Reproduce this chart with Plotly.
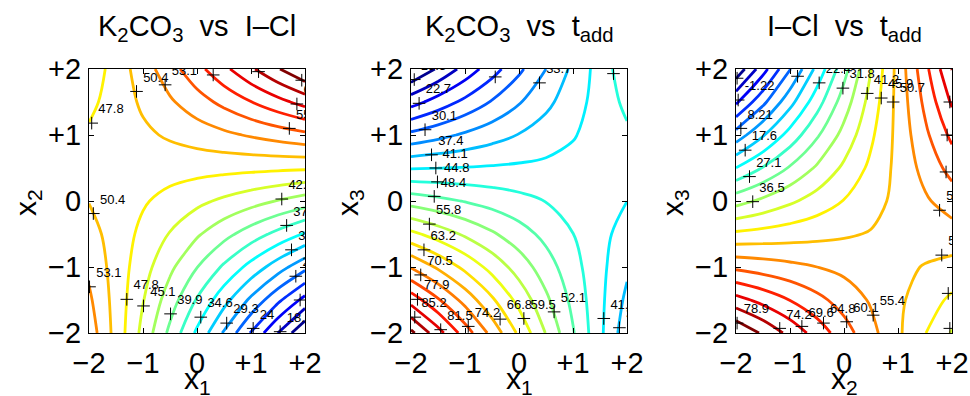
import plotly.graph_objects as go

FONT = "Liberation Sans, Arial, Helvetica, sans-serif"

# ---------------- data ----------------
grid = [-2, -1.5, -1, -0.5, 0, 0.5, 1, 1.5, 2]

# panel 1: response vs x1 (columns) and x2 (rows, bottom to top)
z_k2co3_icl = [
    [54.64, 49.50, 44.36, 39.22, 34.08, 28.94, 23.80, 18.66, 13.52],
    [53.57, 49.43, 45.29, 41.15, 37.01, 32.87, 28.73, 24.59, 20.45],
    [52.50, 49.36, 46.22, 43.08, 39.94, 36.80, 33.66, 30.52, 27.38],
    [51.43, 49.29, 47.15, 45.01, 42.87, 40.73, 38.59, 36.45, 34.31],
    [50.36, 49.22, 48.08, 46.94, 45.80, 44.66, 43.52, 42.38, 41.24],
    [49.29, 49.15, 49.01, 48.87, 48.73, 48.59, 48.45, 48.31, 48.17],
    [48.22, 49.08, 49.94, 50.80, 51.66, 52.52, 53.38, 54.24, 55.10],
    [47.15, 49.01, 50.87, 52.73, 54.59, 56.45, 58.31, 60.17, 62.03],
    [46.08, 48.94, 51.80, 54.66, 57.52, 60.38, 63.24, 66.10, 68.96],
]
# panel 2: response vs x1 (columns) and x3 (rows)
z_k2co3_tadd = [
    [89.83, 82.98, 76.13, 69.28, 62.43, 55.58, 48.73, 41.88, 35.03],
    [80.02, 74.59, 69.15, 63.72, 58.28, 52.85, 47.41, 41.97, 36.54],
    [70.21, 66.19, 62.17, 58.15, 54.13, 50.11, 46.09, 42.07, 38.05],
    [60.40, 57.80, 55.19, 52.59, 49.98, 47.38, 44.77, 42.17, 39.56],
    [50.59, 49.40, 48.21, 47.02, 45.83, 44.64, 43.45, 42.26, 41.07],
    [40.78, 41.01, 41.23, 41.46, 41.68, 41.91, 42.13, 42.36, 42.58],
    [30.97, 32.61, 34.25, 35.89, 37.53, 39.17, 40.81, 42.45, 44.09],
    [21.16, 24.22, 27.27, 30.33, 33.38, 36.44, 39.49, 42.55, 45.60],
    [11.35, 15.82, 20.29, 24.76, 29.23, 33.70, 38.17, 42.64, 47.11],
]
# panel 3: response vs x2 (columns) and x3 (rows)
z_icl_tadd = [
    [83.44, 78.11, 72.77, 67.44, 62.10, 56.77, 51.43, 46.10, 40.76],
    [71.24, 67.95, 64.67, 61.38, 58.10, 54.81, 51.53, 48.24, 44.96],
    [59.03, 57.80, 56.56, 55.33, 54.09, 52.86, 51.62, 50.39, 49.15],
    [46.83, 47.64, 48.46, 49.27, 50.09, 50.90, 51.72, 52.53, 53.35],
    [34.62, 37.49, 40.35, 43.22, 46.08, 48.95, 51.81, 54.68, 57.54],
    [22.42, 27.33, 32.25, 37.16, 42.08, 46.99, 51.91, 56.82, 61.74],
    [10.21, 17.18, 24.14, 31.11, 38.07, 45.04, 52.00, 58.97, 65.93],
    [-2.00, 7.02, 16.04, 25.05, 34.07, 43.08, 52.10, 61.11, 70.13],
    [-14.20, -3.14, 7.93, 19.00, 30.06, 41.13, 52.19, 63.26, 74.32],
]

# contour levels: first level, last level, step
levels_1 = [16.06, 66.32, 2.645]
levels_2 = [15.30, 88.88, 3.679]
levels_3 = [-10.65, 78.90, 4.713]

# contour-label anchors (clabel "+" marks) and their texts
lab1_x = [-0.59, -1.12, -1.95, -1.92, -1.99, -1.30, -0.99, -0.49, 0.07, 0.55, 1.04, 1.54,
          1.57, 1.66, 1.75, 1.83, 1.91, 1.71, 1.85, 1.94, 0.30, 1.14]
lab1_y = [1.76, 1.66, 1.18, -0.19, -1.30, -1.49, -1.59, -1.71, -1.76, -1.85, -1.93, -1.98,
          0.03, -0.37, -0.74, -1.14, -1.50, 1.10, 1.47, 1.83, 1.91, 1.96]
lab1_t = ["53.1", "50.4", "47.8", "50.4", "53.1", "47.8", "45.1", "39.9", "34.6", "29.3", "24", "18.7",
          "42.5", "37.2", "31.9", "26.6", "21.4", "55.7", "61", "66.3", "58.4", "63.7"]

lab2_x = [-1.94, -0.44, 0.38, 1.75, -1.85, -1.74, -1.62, -1.54, -1.51, -1.57, -1.66, -1.76,
          -1.82, -1.88, -1.93, -1.45, -0.94, -0.35, 0.09, 0.65, 1.57, 1.86]
lab2_y = [1.84, 1.88, 1.79, 1.93, 1.48, 1.08, 0.70, 0.50, 0.29, 0.07, -0.35, -0.74,
          -1.12, -1.49, -1.76, -1.95, -1.90, -1.79, -1.78, -1.68, -1.78, -1.92]
lab2_t = ["15.3", "26.3", "33.7", "44.7", "22.7", "30.1", "37.4", "41.1", "44.8", "48.4", "55.8", "63.2",
          "70.5", "77.9", "85.2", "81.5", "74.2", "66.8", "59.5", "52.1", "41.1", "37.4"]

lab3_x = [-1.98, -0.86, -0.46, -0.02, 0.43, 0.69, 0.91, -1.96, -1.91, -1.83, -1.75, -1.69,
          1.96, 1.91, 1.89, 1.77, 1.81, 1.93, 1.96, 0.54, 0.05, -0.38, -0.78, -1.19, -1.98]
lab3_y = [1.86, 1.89, 1.79, 1.71, 1.63, 1.56, 1.50, 1.53, 1.10, 0.77, 0.37, -0.01,
          1.50, 1.00, 0.44, -0.14, -0.82, -1.40, -1.93, -1.73, -1.83, -1.85, -1.90, -1.93, -1.85]
lab3_t = ["-10.7", "12.9", "22.4", "31.8", "41.2", "45.9", "50.7", "-1.22", "8.21", "17.6", "27.1", "36.5",
          "69.6", "64.8", "60.1", "55.4", "50.7", "45.9", "41.2", "55.4", "60.1", "64.8", "69.6", "74.2", "78.9"]

tick_vals = [-2, -1, 0, 1, 2]
tick_text = ["\u22122", "\u22121", "0", "+1", "+2"]

titles = ["K<sub>2</sub>CO<sub>3</sub>\u00a0\u00a0vs\u00a0\u00a0I\u2013Cl",
          "K<sub>2</sub>CO<sub>3</sub>\u00a0\u00a0vs\u00a0\u00a0t<sub>add</sub>",
          "I\u2013Cl\u00a0\u00a0vs\u00a0\u00a0t<sub>add</sub>"]
x_titles = ["x<sub>1</sub>", "x<sub>1</sub>", "x<sub>2</sub>"]
y_titles = ["x<sub>2</sub>", "x<sub>3</sub>", "x<sub>3</sub>"]

# ---------------- styling ----------------
JET = [[0, "rgb(0,0,143)"], [0.111, "rgb(0,0,255)"], [0.365, "rgb(0,255,255)"],
       [0.619, "rgb(255,255,0)"], [0.873, "rgb(255,0,0)"], [1, "rgb(128,0,0)"]]

x_dom = [(89 / 970, 305 / 970), (411 / 970, 627 / 970), (736 / 970, 952 / 970)]
y_dom = ((396 - 333) / 396, (396 - 69) / 396)

panels = [
    (z_k2co3_icl, levels_1, lab1_x, lab1_y, lab1_t),
    (z_k2co3_tadd, levels_2, lab2_x, lab2_y, lab2_t),
    (z_icl_tadd, levels_3, lab3_x, lab3_y, lab3_t),
]

fig = go.Figure()
for i, (z, lev, lx, ly, lt) in enumerate(panels):
    xa = "x" if i == 0 else f"x{i + 1}"
    ya = "y" if i == 0 else f"y{i + 1}"
    start, end, step = lev
    fig.add_trace(go.Contour(
        x=grid, y=grid, z=z, xaxis=xa, yaxis=ya,
        autocontour=False,
        contours=dict(start=start, end=end + 0.01, size=step, coloring="lines"),
        colorscale=JET, zmin=start, zmax=end, zauto=False, showscale=False,
        line=dict(width=2.8, smoothing=1.0), hoverinfo="skip"))
    fig.add_trace(go.Scatter(
        x=lx, y=ly, text=lt, mode="markers+text", textposition="top right",
        cliponaxis=True, xaxis=xa, yaxis=ya, showlegend=False, hoverinfo="skip",
        marker=dict(symbol="cross-thin", size=9, color="black", line=dict(color="black", width=1)),
        textfont=dict(family=FONT, size=13, color="black")))

layout = dict(width=970, height=396, margin=dict(l=0, r=0, t=0, b=0, autoexpand=False),
              paper_bgcolor="white", plot_bgcolor="white", showlegend=False)
for i in range(3):
    sfx = "" if i == 0 else str(i + 1)
    ax = dict(range=[-2, 2], tickvals=tick_vals, ticktext=tick_text, ticks="inside", ticklen=5,
              tickcolor="black", showline=True, mirror="ticks", linecolor="black", linewidth=1,
              showgrid=False, zeroline=False, automargin=False, ticklabeloverflow="allow",
              tickfont=dict(family=FONT, size=29, color="black"))
    layout["xaxis" + sfx] = dict(ax, domain=list(x_dom[i]), anchor="y" + sfx, ticklabelstandoff=4)
    layout["yaxis" + sfx] = dict(ax, domain=list(y_dom), anchor="x" + sfx, ticklabelstandoff=1)
fig.update_layout(**layout)

ann = []
for i in range(3):
    cx = (x_dom[i][0] + x_dom[i][1]) / 2
    ann.append(dict(x=cx, y=1 - 28 / 396, xref="paper", yref="paper", text=titles[i], showarrow=False,
                    font=dict(family=FONT, size=29, color="black"), xanchor="center", yanchor="middle"))
    ann.append(dict(x=cx, y=1 - 380 / 396, xref="paper", yref="paper", text=x_titles[i], showarrow=False,
                    font=dict(family=FONT, size=30, color="black"), xanchor="center", yanchor="middle"))
    ann.append(dict(x=x_dom[i][0] - 62 / 970, y=1 - 203 / 396, xref="paper", yref="paper",
                    text=y_titles[i], showarrow=False, textangle=-90,
                    font=dict(family=FONT, size=30, color="black"), xanchor="center", yanchor="middle"))
fig.update_layout(annotations=ann)
fig.write_html("out.html", config={"displayModeBar": False},
               post_script="document.body.style.margin='0px';document.body.style.overflow='hidden';")
